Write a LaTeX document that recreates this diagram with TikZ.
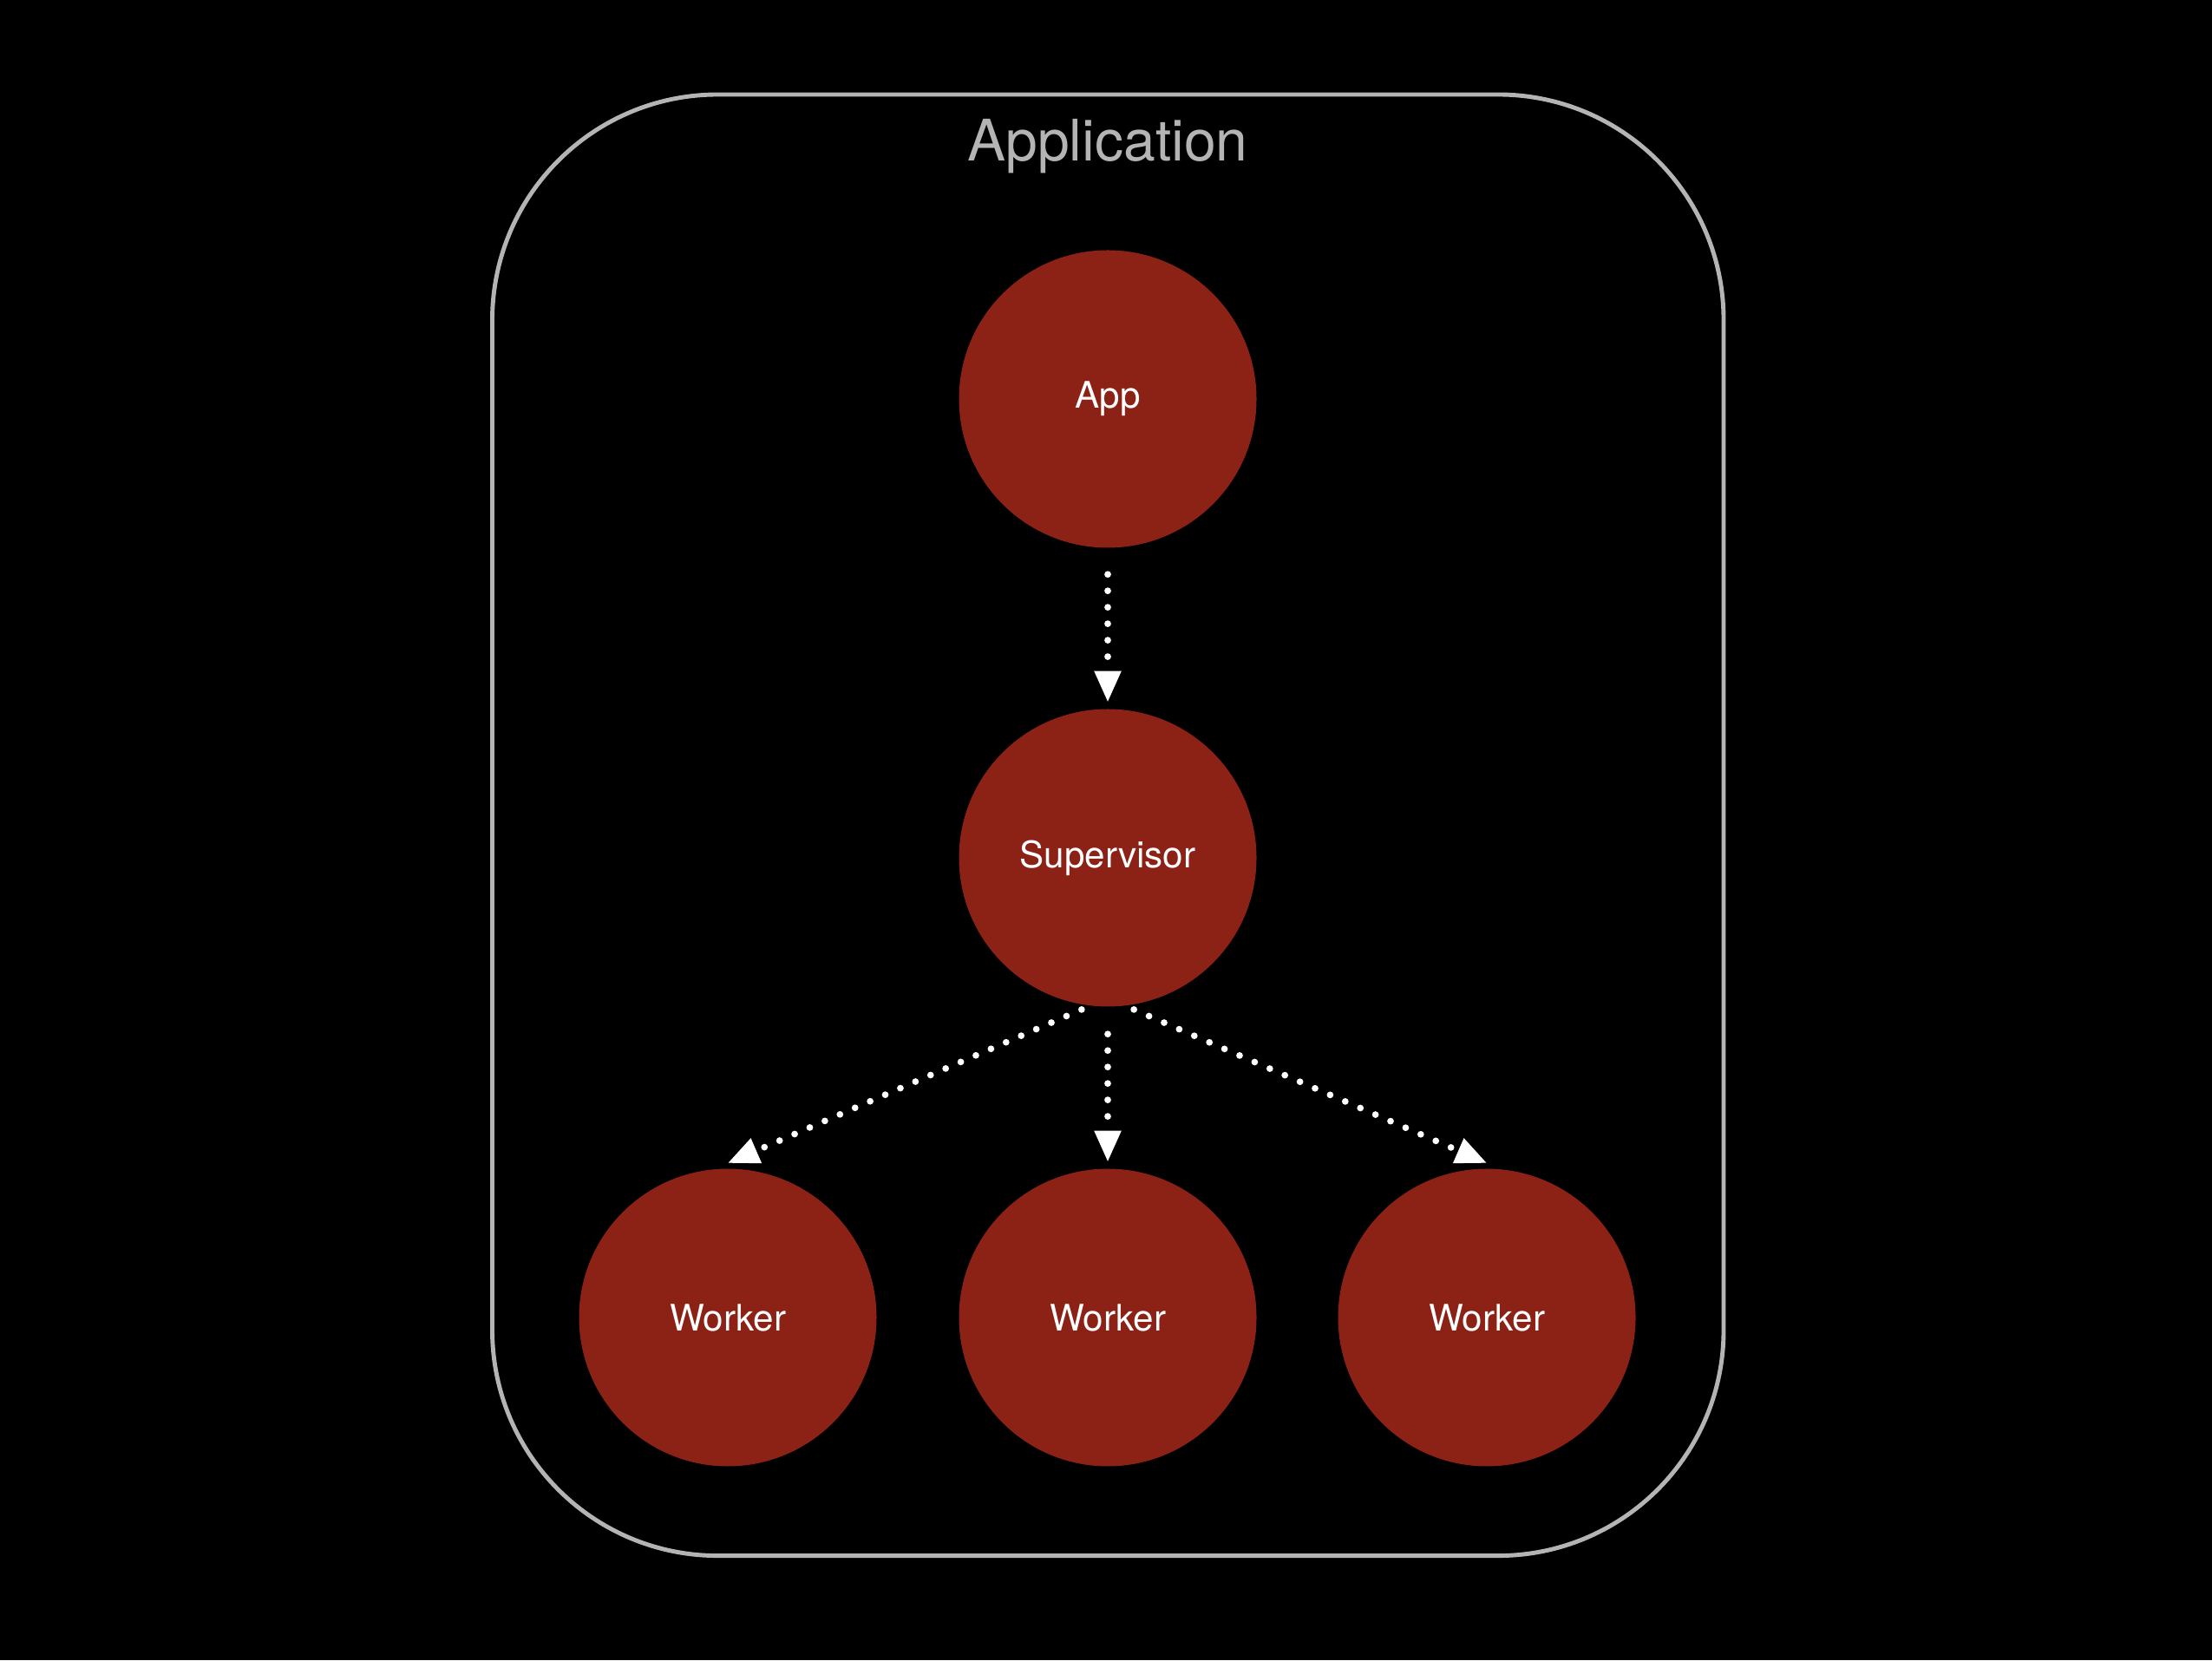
\documentclass[tikz,border=0pt]{standalone}
\usepackage{fontspec}
\setmainfont{TeX Gyre Heros}
\usetikzlibrary{arrows.meta,positioning}
\definecolor{Proc}{HTML}{8C2116}
\definecolor{Frame}{HTML}{B4B4B4}

\begin{document}
\begin{tikzpicture}[
    proc/.style={circle,fill=Proc,text=white,minimum size=3.43cm,inner sep=0pt,font=\fontsize{12}{14}\selectfont},
    flow/.style={white,line width=2.2pt,line cap=round,dash pattern=on 0pt off 5.4pt,
      -{Triangle[length=10pt,width=9pt,fill=white,line width=0pt]}}
  ]
  \fill[black] (0,0) rectangle (25.5,19.14);
  \useasboundingbox (0,0) rectangle (25.5,19.14);
  % application frame
  \draw[Frame,line width=1.4pt,rounded corners=2.6cm] (5.675,1.204) rectangle (19.87,18.05);
  \node[text=Frame,font=\fontsize{18.8}{22}\selectfont] (title) at (12.77,17.45) {Application};
  % processes
  \node[proc] (app) at (12.77,14.54) {App};
  \node[proc] (sup) at (12.77,9.25) {Supervisor};
  \node[proc] (w1) at (8.39,3.95) {Worker};
  \node[proc] (w2) at (12.77,3.95) {Worker};
  \node[proc] (w3) at (17.14,3.95) {Worker};
  % links
  \draw[flow,shorten <=0.3cm,shorten >=0.08cm] (app.south) -- (sup.north);
  \draw[flow,shorten <=0.31cm,shorten >=0.08cm] (sup.south) -- (w2.north);
  \draw[flow,shorten <=0.1cm,shorten >=0.17cm] (sup.263) -- (w1.95);
  \draw[flow,shorten <=0.1cm,shorten >=0.17cm] (sup.277) -- (w3.85);
\end{tikzpicture}
\end{document}
